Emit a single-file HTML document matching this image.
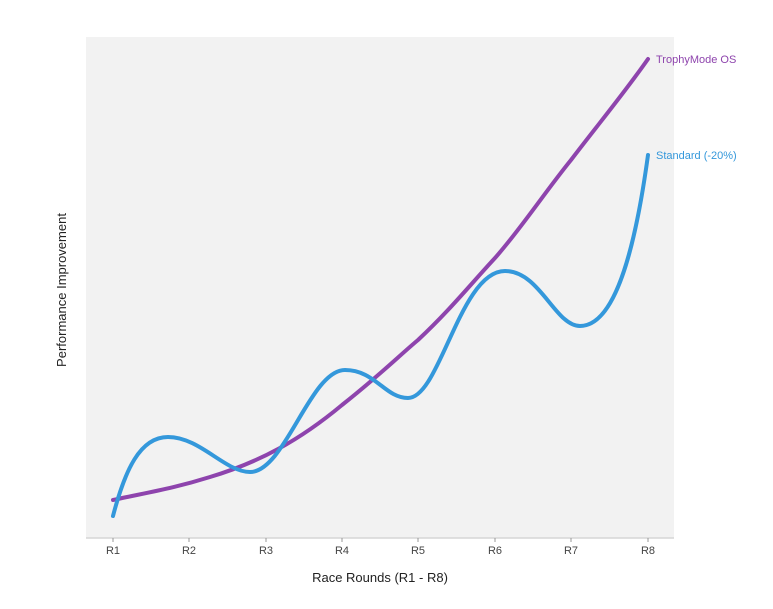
<!DOCTYPE html>
<html><head><meta charset="utf-8"><style>
body{margin:0;background:#fff;}
svg{display:block;font-family:"Liberation Sans",sans-serif;}
</style></head><body>
<svg width="773" height="609" viewBox="0 0 773 609">
<rect x="86" y="37" width="588" height="501" fill="#f2f2f2"/>
<line x1="86" y1="538" x2="674" y2="538" stroke="#d6d6d6" stroke-width="1.5"/>
<g stroke="#999" stroke-width="1">
<line x1="113" y1="538" x2="113" y2="542"/><line x1="189" y1="538" x2="189" y2="542"/>
<line x1="266" y1="538" x2="266" y2="542"/><line x1="342" y1="538" x2="342" y2="542"/>
<line x1="418" y1="538" x2="418" y2="542"/><line x1="495" y1="538" x2="495" y2="542"/>
<line x1="571" y1="538" x2="571" y2="542"/><line x1="648" y1="538" x2="648" y2="542"/>
</g>
<g font-size="11" fill="#444" text-anchor="middle">
<text x="113" y="554">R1</text><text x="189" y="554">R2</text><text x="266" y="554">R3</text>
<text x="342" y="554">R4</text><text x="418" y="554">R5</text><text x="495" y="554">R6</text>
<text x="571" y="554">R7</text><text x="648" y="554">R8</text>
</g>
<text x="380" y="582" font-size="13" fill="#222" text-anchor="middle">Race Rounds (R1 - R8)</text>
<text transform="translate(66,290) rotate(-90)" font-size="13" fill="#222" text-anchor="middle">Performance Improvement</text>
<path d="M113,500 C150,492 175,488 210,477 C260,462 300,440 342,405 C380,375 400,355 418,340 C450,310 470,285 495,258 C520,230 545,192 571,160 C600,122 625,92 648,59" fill="none" stroke="#8e44ad" stroke-width="4" stroke-linecap="round"/>
<path d="M113,516 C125,470 140,437 168,437 C200,437 225,472 250,472 C285,472 310,370 345,370 C375,370 385,398 408,398 C440,398 460,271 505,271 C540,271 555,326 580,326 C615,326 635,250 648,155" fill="none" stroke="#3498db" stroke-width="4" stroke-linecap="round"/>
<text x="656" y="63" font-size="11" fill="#8e44ad">TrophyMode OS</text>
<text x="656" y="159" font-size="11" fill="#3498db">Standard (-20%)</text>
</svg>
</body></html>
